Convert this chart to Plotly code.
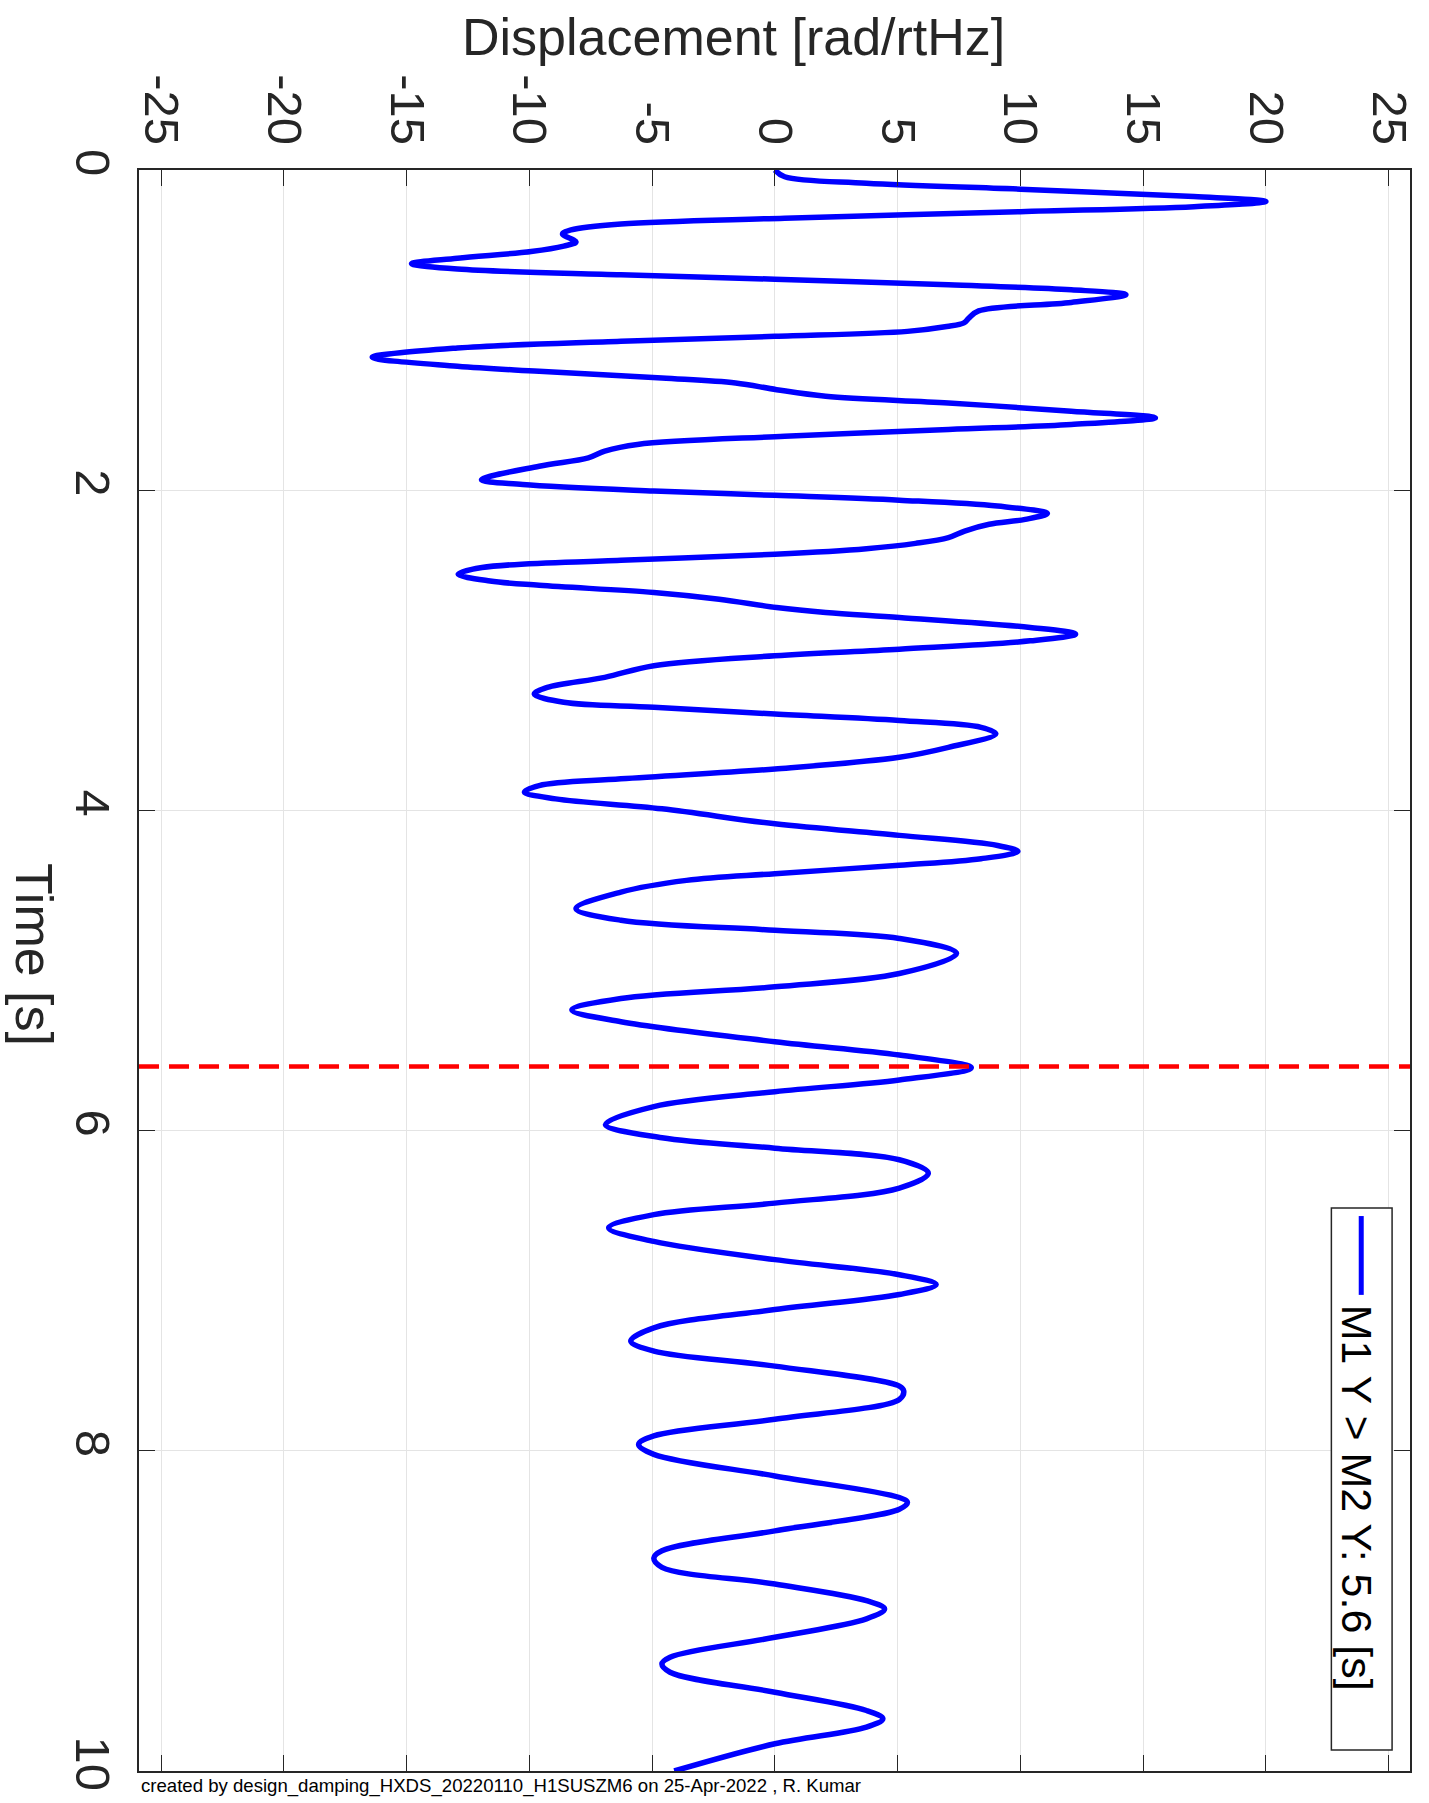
import plotly.graph_objects as go

# Time samples [s] and displacement values
time_s = [0.0, 0.042, 0.083, 0.12, 0.166, 0.196, 0.229, 0.26, 0.301, 0.337, 0.374, 0.40, 0.449, 0.475,
          0.509, 0.551, 0.585, 0.619, 0.655, 0.682, 0.717, 0.748, 0.779, 0.827, 0.88, 0.925, 0.955, 0.978,
          1.008, 1.039, 1.07, 1.112, 1.17, 1.226, 1.257, 1.299, 1.33, 1.372, 1.413, 1.455, 1.507, 1.548,
          1.59, 1.621, 1.663, 1.714, 1.756, 1.798, 1.85, 1.935, 1.964, 2.005, 2.032, 2.062, 2.099, 2.145,
          2.182, 2.213, 2.255, 2.296, 2.332, 2.365, 2.4, 2.438, 2.483, 2.525, 2.567, 2.594, 2.639, 2.681,
          2.733, 2.764, 2.795, 2.857, 2.899, 2.941, 2.993, 3.034, 3.096, 3.169, 3.232, 3.273, 3.325, 3.356,
          3.398, 3.439, 3.481, 3.522, 3.606, 3.668, 3.741, 3.803, 3.845, 3.886, 3.928, 3.99, 4.084, 4.156,
          4.219, 4.256, 4.302, 4.343, 4.395, 4.437, 4.51, 4.613, 4.686, 4.749, 4.8, 4.894, 5.019, 5.102,
          5.175, 5.247, 5.32, 5.445, 5.528, 5.607, 5.684, 5.757, 5.85, 5.962, 6.045, 6.11, 6.182, 6.266,
          6.359, 6.453, 6.525, 6.608, 6.692, 6.806, 6.9, 6.962, 7.024, 7.118, 7.232, 7.315, 7.377, 7.471,
          7.596, 7.627, 7.679, 7.803, 7.907, 7.96, 8.022, 8.157, 8.292, 8.323, 8.365, 8.5, 8.624, 8.67,
          8.728, 8.832, 8.936, 8.988, 9.05, 9.165, 9.289, 9.331, 9.383, 9.508, 9.622, 9.674, 9.726, 9.83,
          10.0]
displacement = [0.0, 0.4, 3.73, 10.0, 17.07, 20.0, 17.07, 10.0, 0.4, -6.27, -8.3, -8.65, -8.1, -8.6,
                -9.93, -12.93, -14.8, -12.93, -6.27, 0.0, 7.07, 12.07, 14.3, 12.07, 8.3, 7.9, 7.7, 7.0,
                5.4, 0.0, -6.27, -12.93, -16.4, -12.93, -9.6, -4.6, -1.6, 0.07, 2.07, 7.07, 12.07, 15.5,
                12.07, 7.07, 0.4, -5.6, -6.93, -7.6, -9.6, -11.95, -10.27, -4.93, 0.0, 5.07, 9.07, 11.1,
                10.2, 8.73, 7.73, 7.07, 5.73, 3.73, 0.0, -6.27, -11.93, -12.9, -11.6, -9.6, -4.93, -2.27,
                0.07, 2.07, 5.07, 10.4, 12.25, 10.4, 5.07, 0.0, -4.93, -6.93, -9.27, -9.8, -8.6, -4.93,
                0.0, 5.07, 8.4, 9.0, 7.07, 5.07, 0.0, -6.27, -9.6, -10.2, -8.93, -4.6, 0.0, 5.07,
                9.07, 9.9, 8.4, 5.07, 0.0, -3.6, -6.27, -8.1, -6.27, 0.0, 5.07, 7.4, 5.07, 0.0,
                -6.27, -8.27, -6.27, 0.0, 5.07, 8.0, 5.07, 0.0, -4.93, -6.9, -4.6, 0.0, 5.07, 6.25,
                5.07, 0.0, -4.93, -6.77, -4.93, 0.0, 5.07, 6.57, 5.07, 0.0, -4.93, -5.87, -4.93, 0.0,
                5.07, 5.25, 5.07, 0.0, -4.93, -5.55, -4.93, 0.0, 5.07, 5.4, 5.07, 0.0, -4.6, -4.93,
                -4.6, 0.0, 3.73, 4.47, 3.73, 0.0, -4.27, -4.6, -4.27, 0.0, 3.73, 4.4, 3.73, 0.0,
                -4.1]

marker_time = 5.6
x_ticks = [-25, -20, -15, -10, -5, 0, 5, 10, 15, 20, 25]
x_tick_text = ["-25", "-20", "-15", "-10", "-5", "0", "5", "10", "15", "20", "25"]
y_ticks = [0, 2, 4, 6, 8, 10]
y_tick_text = ["0", "2", "4", "6", "8", "10"]
legend_label = "M1 Y > M2 Y: 5.6 [s]"
footer_text = "created by design_damping_HXDS_20220110_H1SUSZM6 on 25-Apr-2022 , R. Kumar"

W, H = 1429, 1803
L, R, T, B = 139, 1416, 170, 1774
pw, ph = R - L, B - T


def px(xp):
    return (xp - L) / pw


def py(yp):
    return (B - yp) / ph


FONT = "Liberation Sans, Arial, Helvetica, sans-serif"
AX = "#262626"

fig = go.Figure()
fig.add_trace(go.Scatter(
    x=displacement, y=time_s, mode="lines",
    line=dict(color="#0000ff", width=5.5, shape="spline", smoothing=1.0),
    showlegend=False, hoverinfo="skip"))

# red dashed marker line
fig.add_shape(type="line", xref="paper", x0=0, x1=1, yref="y", y0=marker_time, y1=marker_time,
              line=dict(color="#ff0000", width=4.5, dash="20px,10px"), layer="above")

# legend box
fig.add_shape(type="rect", xref="paper", yref="paper", x0=px(1337), x1=px(1398), y0=py(1753), y1=py(1210),
              line=dict(color="#262626", width=1.5), fillcolor="white", layer="above")
fig.add_shape(type="line", xref="paper", yref="paper", x0=px(1367), x1=px(1367), y0=py(1218), y1=py(1297),
              line=dict(color="#0000ff", width=5), layer="above")
fig.add_annotation(text=legend_label, xref="paper", yref="paper", x=px(1363), y=py(1305),
                   xanchor="center", yanchor="top", textangle=90, showarrow=False,
                   font=dict(family=FONT, size=43, color="black"))

# axis titles
fig.add_annotation(text="Displacement [rad/rtHz]", xref="paper", yref="paper", x=px(736), y=py(37),
                   xanchor="center", yanchor="middle", showarrow=False,
                   font=dict(family=FONT, size=52, color=AX))
fig.add_annotation(text="Time [s]", xref="paper", yref="paper", x=px(34), y=py(956),
                   xanchor="center", yanchor="middle", textangle=90, showarrow=False,
                   font=dict(family=FONT, size=52, color=AX))
fig.add_annotation(text=footer_text, xref="paper", yref="paper", x=0, y=py(1789),
                   xanchor="left", yanchor="middle", showarrow=False,
                   font=dict(family=FONT, size=18.6, color="black"))

fig.update_layout(
    width=W, height=H, margin=dict(l=L, r=W - R, t=T, b=H - B, pad=0),
    paper_bgcolor="white", plot_bgcolor="white", showlegend=False,
    xaxis=dict(side="top", range=[-25.9, 25.87], tickmode="array", tickvals=x_ticks, ticktext=x_tick_text,
               tickangle=90, ticks="inside", ticklen=16, tickcolor=AX, tickwidth=1.2,
               showline=True, linecolor=AX, linewidth=1.5, mirror="ticks",
               showgrid=True, gridcolor="#e4e4e4", gridwidth=1, zeroline=False,
               tickfont=dict(family=FONT, size=49, color=AX), ticklabelstandoff=6),
    yaxis=dict(range=[10, 0], tickmode="array", tickvals=y_ticks, ticktext=y_tick_text,
               tickangle=90, ticks="inside", ticklen=16, tickcolor=AX, tickwidth=1.2,
               showline=True, linecolor=AX, linewidth=1.5, mirror="ticks",
               showgrid=True, gridcolor="#e4e4e4", gridwidth=1, zeroline=False,
               tickfont=dict(family=FONT, size=49, color=AX), ticklabelstandoff=2),
)

fig.write_html("out.html", config={"displayModeBar": False},
               post_script="document.body.style.margin='0';document.body.style.overflow='hidden';")
